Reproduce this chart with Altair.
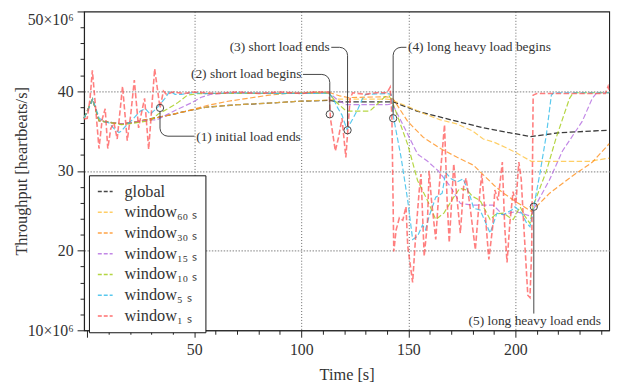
import altair as alt
import pandas as pd

FONT = "Liberation Serif"

series_labels = ["global", "window₆₀ ₛ", "window₃₀ ₛ", "window₁₅ ₛ", "window₁₀ ₛ", "window₅ ₛ", "window₁ ₛ"]
series_colors = ["#1a1a1a", "#ffc340", "#ff8f1a", "#b36ae0", "#a2cc14", "#2fbbea", "#ff4d4d"]

global_t = [-1.5, 2.5, 5.5, 10, 16, 22, 29, 33, 40, 48, 56, 70, 85, 100, 113, 117, 140, 143, 154, 167, 185, 207, 221, 243.8]
global_v = [36.6, 39.0, 36.3, 36.1, 35.9, 36.1, 36.5, 36.7, 37.1, 37.6, 38.0, 38.3, 38.5, 38.75, 38.85, 38.65, 38.65, 38.65, 37.5, 36.6, 35.4, 34.3, 34.8, 35.1]

w60_t = [-1.5, 2.5, 5.5, 10, 16, 22, 29, 33, 40, 48, 56, 70, 85, 100, 113, 117, 140, 142, 149.5, 158, 165, 172.6, 180, 185, 190, 195.7, 200.2, 207.4, 234.5, 243.8]
w60_v = [36.6, 39.0, 36.3, 36.1, 35.9, 36.1, 36.5, 36.7, 37.1, 37.6, 38.0, 38.3, 38.5, 38.75, 38.9, 39.0, 39.0, 38.9, 38.1, 37.1, 36.4, 35.9, 35.0, 34.0, 33.6, 32.9, 32.3, 31.2, 31.2, 31.6]

w30_t = [-1.5, 2.5, 5.5, 10, 16, 22, 29, 33, 40, 48, 56, 65, 75, 85, 95, 105, 113, 118, 122, 140, 143, 149.7, 157, 165, 172.8, 180.5, 185, 190, 194.4, 200.4, 207.5, 216, 226.8, 236, 243.8]
w30_v = [36.6, 39.0, 36.3, 36.1, 35.9, 36.1, 36.5, 36.7, 37.1, 37.6, 38.2, 38.7, 39.1, 39.5, 39.75, 39.85, 39.85, 39.4, 39.2, 39.3, 39.0, 36.2, 34.2, 32.8, 31.7, 30.7, 29.5, 28.2, 27.2, 26.1, 24.9, 27.2, 29.4, 31.1, 33.4]

w15_t = [-1.5, 2.5, 5.5, 10, 16, 22, 29, 32.5, 36, 42, 48.4, 53, 57.5, 65, 113, 117, 121, 140, 142, 143.5, 149.7, 154.3, 159, 164, 169.7, 174.3, 180.4, 185, 189.6, 194.2, 200.2, 207.3, 208.7, 215.8, 222, 231.2, 235.9, 238, 243.8]
w15_v = [36.6, 39.0, 36.3, 36.1, 35.9, 36.1, 36.4, 36.4, 36.9, 37.7, 38.5, 39.2, 39.6, 39.75, 39.75, 38.9, 38.3, 38.3, 38.4, 37.9, 34.6, 32.1, 31.2, 30.0, 28.0, 25.9, 25.7, 25.7, 25.7, 24.5, 24.9, 24.3, 25.3, 28.8, 32.5, 36.2, 39.1, 39.8, 39.8]

w10_t = [-1.5, 2.5, 5.5, 10, 16, 22, 27, 30, 33, 37, 42, 46.8, 52, 113, 116, 121, 132, 136, 139, 141, 142.5, 149.7, 154.3, 158.9, 162.8, 166.6, 171.2, 174, 177.4, 180, 183.5, 188.2, 191, 194.4, 197, 199, 202.2, 204, 206.8, 208.3, 214.5, 219.1, 225.3, 227, 243.8]
w10_v = [36.6, 39.0, 36.3, 36.1, 35.8, 36.0, 36.2, 36.4, 37.1, 37.7, 38.5, 39.5, 39.7, 39.75, 38.7, 37.5, 37.5, 38.5, 39.3, 39.4, 38.7, 33.3, 28.8, 26.3, 23.9, 24.7, 26.7, 27.8, 27.6, 26.8, 26.3, 23.9, 24.6, 24.7, 24.2, 23.9, 25.5, 24.5, 23.4, 25.6, 30.0, 34.2, 39.1, 39.8, 39.8]

w5_t = [-1.5, 1, 2.6, 5.6, 8, 10.2, 12.5, 14.8, 16, 17.9, 21, 24.8, 27.2, 29.4, 31, 33.3, 36.3, 38.6, 41, 44, 48.6, 55, 70, 90, 113, 115, 117, 119, 121.3, 124, 126.5, 128.5, 130, 140, 142, 142.8, 146.6, 149.7, 152, 154.3, 156.6, 158, 159.7, 162.8, 165.8, 167.4, 170, 172.8, 175.6, 179, 180.5, 183.5, 186.6, 188.2, 191.4, 194.4, 198.3, 199.8, 203, 205.3, 206.8, 208.3, 211.4, 214.5, 216.8, 218, 243.8]
w5_v = [36.6, 38.0, 39.0, 36.6, 36.2, 36.0, 35.3, 34.8, 35.0, 35.6, 36.4, 37.5, 37.8, 37.1, 37.5, 38.1, 39.1, 40.0, 39.6, 39.6, 39.8, 39.7, 39.8, 39.7, 39.75, 39.0, 37.9, 37.0, 35.2, 36.5, 37.8, 39.0, 39.6, 39.7, 39.6, 37.1, 31.7, 26.3, 21.4, 21.8, 23.2, 22.6, 24.3, 26.7, 27.2, 29.8, 29.0, 28.6, 29.0, 26.7, 25.3, 25.1, 23.2, 22.2, 24.7, 24.5, 25.1, 25.5, 24.7, 23.4, 23.0, 25.1, 29.6, 34.6, 39.5, 39.8, 39.8]

w1_t = [-1.5, 0, 1.3, 2.4, 3.8, 5.5, 7, 8.4, 9.6, 11, 12.5, 14, 16.5, 18.7, 20.3, 22, 24, 25.3, 26.8, 28.7, 31.5, 34, 35.6, 37, 40, 45, 50, 60, 70, 80, 90, 100, 106, 113, 113.6, 115.9, 117.4, 119, 120.8, 122.8, 124, 130, 135, 140, 141.5, 142.3, 143.2, 144.3, 145.8, 147.4, 148.9, 149.7, 152, 153.5, 155.1, 155.9, 157.4, 158.9, 159.7, 160.8, 162.8, 164.3, 166.9, 168.1, 169.1, 170.7, 171.2, 172.8, 174.3, 175.8, 177, 179, 181.3, 183.5, 184.3, 186, 187.6, 189.4, 190.4, 191.9, 193.9, 195, 196.1, 197.4, 198.9, 200.2, 201.6, 202.7, 204.2, 205.8, 206.8, 207.6, 208.3, 210, 220, 230, 242, 243.3, 243.8]
w1_v = [36.5, 36.6, 39.0, 42.6, 38.3, 32.8, 36.5, 37.8, 32.8, 35.3, 36.0, 34.0, 40.6, 33.8, 37.0, 41.4, 35.4, 37.2, 39.1, 32.7, 42.8, 37.9, 40.0, 39.6, 39.9, 39.7, 39.9, 39.7, 39.9, 39.7, 39.9, 39.7, 39.9, 39.9, 36.6, 32.5, 34.2, 36.6, 31.7, 39.1, 39.8, 39.6, 39.8, 39.8, 40.5, 37.0, 19.9, 22.6, 24.1, 23.8, 25.5, 20.6, 16.0, 22.2, 27.6, 29.6, 19.3, 23.4, 30.0, 26.3, 21.4, 27.6, 35.8, 26.3, 21.0, 28.4, 30.9, 26.3, 22.2, 28.0, 29.1, 25.1, 20.1, 27.6, 29.6, 24.3, 18.9, 23.0, 27.6, 26.3, 31.1, 23.0, 18.5, 23.4, 27.4, 25.8, 31.1, 29.0, 21.8, 14.4, 14.1, 20.0, 39.5, 39.7, 39.7, 39.7, 39.7, 40.6, 40.0]

series_t = [global_t, w60_t, w30_t, w15_t, w10_t, w5_t, w1_t]
series_v = [global_v, w60_v, w30_v, w15_v, w10_v, w5_v, w1_v]
series_width = [1.3, 1.2, 1.2, 1.2, 1.2, 1.2, 1.6]
series_opacity = [0.85, 0.8, 0.8, 0.8, 0.8, 0.8, 0.72]

# annotations
circ_t = [34.0, 113.3, 121.6, 142.9, 208.6]
circ_v = [37.9, 37.1, 35.1, 36.6, 25.5]

path1_t = [34.0, 34.0, 34.28, 35.08, 36.28, 37.7, 50.1]
path1_v = [37.4, 35.35, 34.97, 34.64, 34.43, 34.35, 34.35]
path2_t = [113.3, 113.3, 113.02, 112.22, 111.02, 109.6, 100.8]
path2_v = [37.6, 41.1, 41.48, 41.81, 42.02, 42.1, 42.1]
path3_t = [121.6, 121.6, 121.32, 120.52, 119.32, 117.9, 114.0]
path3_v = [35.6, 44.5, 44.88, 45.21, 45.42, 45.5, 45.5]
path4_t = [142.9, 142.9, 143.18, 143.98, 145.18, 146.6, 149.1]
path4_v = [37.1, 44.5, 44.88, 45.21, 45.42, 45.5, 45.5]
path5_t = [208.6, 208.6]
path5_v = [25.0, 12.1]

label_left_text = ["(1) initial load ends", "(4) long heavy load begins"]
label_left_t = [50.9, 149.8]
label_left_v = [34.3, 45.5]
label_right_text = ["(2) short load begins", "(3) short load ends", "(5) long heavy load ends"]
label_right_t = [100.1, 113.3, 240.0]
label_right_v = [42.1, 45.5, 11.15]

# ---------------- build tables
rows = []
for lab, ts, vs in zip(series_labels, series_t, series_v):
    for i, (t, v) in enumerate(zip(ts, vs)):
        rows.append({"series": lab, "t": t, "v": v, "i": i})
df = pd.DataFrame(rows)

prow = []
for k, (ts, vs) in enumerate([(path1_t, path1_v), (path2_t, path2_v), (path3_t, path3_v), (path4_t, path4_v), (path5_t, path5_v)]):
    for i, (t, v) in enumerate(zip(ts, vs)):
        prow.append({"p": k, "t": t, "v": v, "i": i})
paths = pd.DataFrame(prow)
circles = pd.DataFrame({"t": circ_t, "v": circ_v})
lab_l = pd.DataFrame({"t": label_left_t, "v": label_left_v, "txt": label_left_text})
lab_r = pd.DataFrame({"t": label_right_t, "v": label_right_v, "txt": label_right_text})

x_enc = alt.X("t:Q", title="Time [s]",
              scale=alt.Scale(domain=[-1.5, 243.8], nice=False, zero=False),
              axis=alt.Axis(values=list(range(0, 250, 10)),
                            labelExpr="datum.value % 50 === 0 && datum.value > 0 ? datum.label : ''",
                            tickSize={"condition": {"test": "datum.value % 50 === 0", "value": 7}, "value": 4},
                            gridOpacity={"condition": {"test": "datum.value % 50 === 0 && datum.value > 0", "value": 1}, "value": 0},
                            gridColor="#555", gridDash=[1, 2], gridWidth=0.9,
                            labelPadding=5, labelFlush=False, labelOverlap=False,
                            titleX=266, titleY=45, titleBaseline="middle"))
y_enc = alt.Y("v:Q", title="Throughput [heartbeats/s]",
              scale=alt.Scale(domain=[10, 50], nice=False, zero=False),
              axis=alt.Axis(values=list(range(10, 51, 2)),
                            labelExpr="datum.value === 50 || datum.value === 10 ? datum.value + '×10⁶' : (datum.value % 10 === 0 ? datum.label : '')",
                            labelOffset={"condition": {"test": "datum.value === 50", "value": 8}, "value": 0},
                            tickSize={"condition": {"test": "datum.value % 10 === 0", "value": 7}, "value": 4},
                            gridOpacity={"condition": {"test": "datum.value % 10 === 0 && datum.value > 10 && datum.value < 50", "value": 1}, "value": 0},
                            gridColor="#9a9a9a", gridDash=[1.5, 1.5], gridWidth=1.4,
                            labelPadding=4, labelFlush=False, labelOverlap=False,
                            titleX=-63, titleY=161.5, titleAngle=-90, titleBaseline="middle", titleAlign="center"))
color_enc = alt.Color("series:N", sort=series_labels,
                      scale=alt.Scale(domain=series_labels, range=series_colors),
                      legend=alt.Legend(title=None, orient="none", legendX=5, legendY=166,
                                        symbolType="stroke", symbolSize=225, symbolStrokeWidth=1.5,
                                        symbolDash=[4, 2], symbolOpacity=0.8,
                                        labelFont=FONT, labelFontSize=16.5, labelColor="#333",
                                        labelOffset=11, rowPadding=4, padding=8,
                                        strokeColor="#111", fillColor="white"))

layers = []
for lab, w, op in zip(series_labels, series_width, series_opacity):
    layers.append(
        alt.Chart(df).transform_filter(alt.datum.series == lab)
        .mark_line(strokeDash=[5.5, 2.5], strokeWidth=w, opacity=op)
        .encode(x=x_enc, y=y_enc, color=color_enc, order="i:Q")
    )

path_layer = alt.Chart(paths).mark_line(color="#444", strokeWidth=1).encode(
    x=x_enc, y=y_enc, detail="p:N", order="i:Q")
circ_layer = alt.Chart(circles).mark_point(shape="circle", filled=False, size=55, color="#444", strokeWidth=1, opacity=1).encode(
    x=x_enc, y=y_enc)
txt_l = alt.Chart(lab_l).mark_text(align="left", baseline="middle", font=FONT, fontSize=13.6, color="#333").encode(
    x=x_enc, y=y_enc, text="txt:N")
txt_r = alt.Chart(lab_r).mark_text(align="right", baseline="middle", font=FONT, fontSize=13.6, color="#333").encode(
    x=x_enc, y=y_enc, text="txt:N")

chart = alt.layer(*layers, path_layer, circ_layer, txt_l, txt_r).properties(
    width=532, height=323,
    padding={"left": 77, "top": 1, "right": 13, "bottom": 59},
    autosize=alt.AutoSizeParams(type="none"),
).configure_view(stroke="#222", strokeWidth=1.1).configure_axis(
    labelFont=FONT, titleFont=FONT, labelFontSize=16, titleFontSize=16.5,
    labelColor="#333", titleColor="#333", titleFontWeight="normal",
    domainColor="#222", tickColor="#222", domainWidth=1.1,
)

chart.save("out.html", embed_options={"renderer": "svg", "actions": False})
